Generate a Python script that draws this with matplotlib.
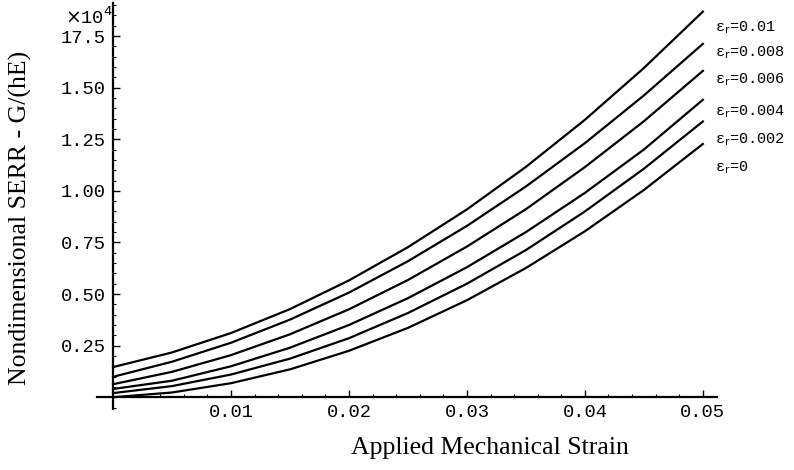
import matplotlib
matplotlib.use("Agg")
import matplotlib.pyplot as plt
from matplotlib.ticker import MultipleLocator, FixedLocator

# ---- data (y in units of 1e-4) ----
strain = [0.0, 0.005, 0.01, 0.015, 0.02, 0.025, 0.03, 0.035, 0.04, 0.045, 0.05]
serr_r0000 = [0.000, 0.023, 0.068, 0.135, 0.225, 0.336, 0.470, 0.626, 0.804, 1.004, 1.227]
serr_r0002 = [0.020, 0.054, 0.110, 0.187, 0.286, 0.408, 0.550, 0.713, 0.900, 1.107, 1.336]
serr_r0004 = [0.040, 0.080, 0.150, 0.240, 0.350, 0.480, 0.630, 0.800, 0.990, 1.200, 1.441]
serr_r0006 = [0.063, 0.123, 0.204, 0.305, 0.426, 0.568, 0.730, 0.911, 1.115, 1.337, 1.581]
serr_r0008 = [0.099, 0.172, 0.264, 0.376, 0.507, 0.659, 0.830, 1.021, 1.231, 1.462, 1.712]
serr_r0010 = [0.146, 0.217, 0.311, 0.427, 0.566, 0.727, 0.910, 1.116, 1.344, 1.595, 1.868]
series = [serr_r0000, serr_r0002, serr_r0004, serr_r0006, serr_r0008, serr_r0010]

curve_labels = ["0", "0.002", "0.004", "0.006", "0.008", "0.01"]
y_ticks = [0.25, 0.50, 0.75, 1.00, 1.25, 1.50, 1.75]
y_ticklabels = ["0.25", "0.50", "0.75", "1.00", "1.25", "1.50", "17.5"]
x_ticks = [0.01, 0.02, 0.03, 0.04, 0.05]
x_ticklabels = ["0.01", "0.02", "0.03", "0.04", "0.05"]

W, H = 794, 470
fig = plt.figure(figsize=(W / 100, H / 100), dpi=100)
ax = fig.add_axes([97 / W, 61 / H, (717 - 97) / W, (438 - 32) / H])

for s in series:
    ax.plot(strain, s, color="black", lw=1.6, solid_joinstyle="round")

ax.set_xlim(-0.00136, 0.0512)
ax.set_ylim(-0.057, 1.91)

for sp in ["top", "right"]:
    ax.spines[sp].set_visible(False)
ax.spines["left"].set_position(("data", 0))
ax.spines["bottom"].set_position(("data", 0))
ax.spines["left"].set_linewidth(1.6)
ax.spines["bottom"].set_linewidth(1.6)

mono = "Liberation Mono"
ax.xaxis.set_major_locator(FixedLocator(x_ticks))
ax.set_xticklabels(x_ticklabels, family=mono, fontsize=13.5)
ax.xaxis.set_minor_locator(MultipleLocator(0.002))
ax.yaxis.set_major_locator(FixedLocator(y_ticks))
ax.set_yticklabels(y_ticklabels, family=mono, fontsize=13.5)
ax.yaxis.set_minor_locator(MultipleLocator(0.05))
ax.tick_params(axis="both", which="major", direction="in", length=5, width=1, pad=5)
ax.tick_params(axis="both", which="minor", direction="in", length=2.5, width=0.8)

fig.text(20 / W, 1 - 218 / H, "Nondimensional SERR - G/(hE)", rotation=90,
         ha="center", va="center", family="Liberation Serif", fontsize=18.5)
fig.text(490 / W, 1 - 448 / H, "Applied Mechanical Strain",
         ha="center", va="center", family="Liberation Serif", fontsize=18.5)
fig.text(65 / W, 1 - 17 / H, r"$\times$10$^{4}$", ha="left", va="center",
         family=mono, fontsize=13.5)

label_y = [168, 140, 112, 80, 53, 28]
for lab, py in zip(curve_labels, label_y):
    fig.text(715 / W, 1 - py / H, "ε$_\\mathrm{r}$=" + lab, ha="left", va="center",
             family=[mono, "DejaVu Sans"], fontsize=11)

fig.savefig("out.png", dpi=100)
